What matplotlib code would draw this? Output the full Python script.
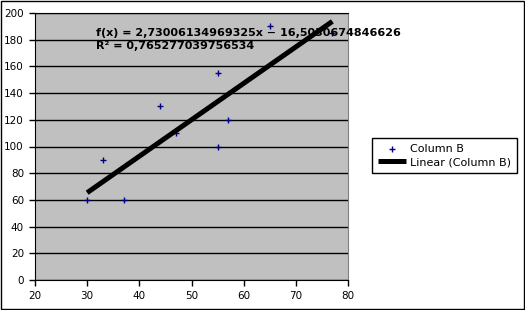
import numpy as np
import matplotlib
matplotlib.use('Agg')
import matplotlib.pyplot as plt
from matplotlib.patches import Rectangle

# data
x_values = [30, 33, 37, 44, 47, 55, 55, 57, 65, 77]
y_values = [60, 90, 60, 130, 110, 155, 100, 120, 190, 185]
x_ticks = [20, 30, 40, 50, 60, 70, 80]
y_ticks = [0, 20, 40, 60, 80, 100, 120, 140, 160, 180, 200]
eq_text = 'f(x) = 2,73006134969325x − 16,5030674846626\nR² = 0,765277039756534'

plt.rcParams['font.family'] = 'DejaVu Sans'

fig = plt.figure(figsize=(5.25, 3.10), dpi=100)
ax = fig.add_axes([35/525, 1 - 280/310, 313/525, 267/310])
ax.set_facecolor('#c0c0c0')

# trend line
slope, intercept = np.polyfit(x_values, y_values, 1)
fit_x = np.array([min(x_values), max(x_values)])
fit_y = slope * fit_x + intercept

ax.scatter(x_values, y_values, marker='+', s=22, c='#000080', linewidths=1.0,
           label='Column B', zorder=3)
ax.plot(fit_x, fit_y, color='black', lw=3.6, label='Linear (Column B)', zorder=4,
        solid_capstyle='butt')

ax.set_xlim(20, 80)
ax.set_ylim(0, 200)
ax.set_xticks(x_ticks)
ax.set_yticks(y_ticks)
ax.yaxis.grid(True, color='black', lw=1)
ax.set_axisbelow(True)
ax.tick_params(labelsize=7.5, length=4, width=1, color='black', pad=4)

for s in ['left', 'bottom', 'top']:
    ax.spines[s].set_color('black')
ax.spines['right'].set_color('#808080')

ax.text(31.6, 188.6, eq_text, fontsize=8, fontweight='bold', va='top',
        linespacing=1.3, zorder=5)

leg = ax.legend(loc='center left', bbox_to_anchor=(1.0767, 0.466), fontsize=8,
                frameon=True, fancybox=False, edgecolor='black', framealpha=1,
                borderpad=0.5, borderaxespad=0, handlelength=2.6,
                handletextpad=0.35, labelspacing=0.3)
leg.get_frame().set_linewidth(1)

# outer border
fig.patches.append(Rectangle((0.5/525, 1.5/310), 523/525, 308/310,
                             transform=fig.transFigure, fill=False,
                             edgecolor='black', lw=1))

fig.savefig('out.png', dpi=100)
